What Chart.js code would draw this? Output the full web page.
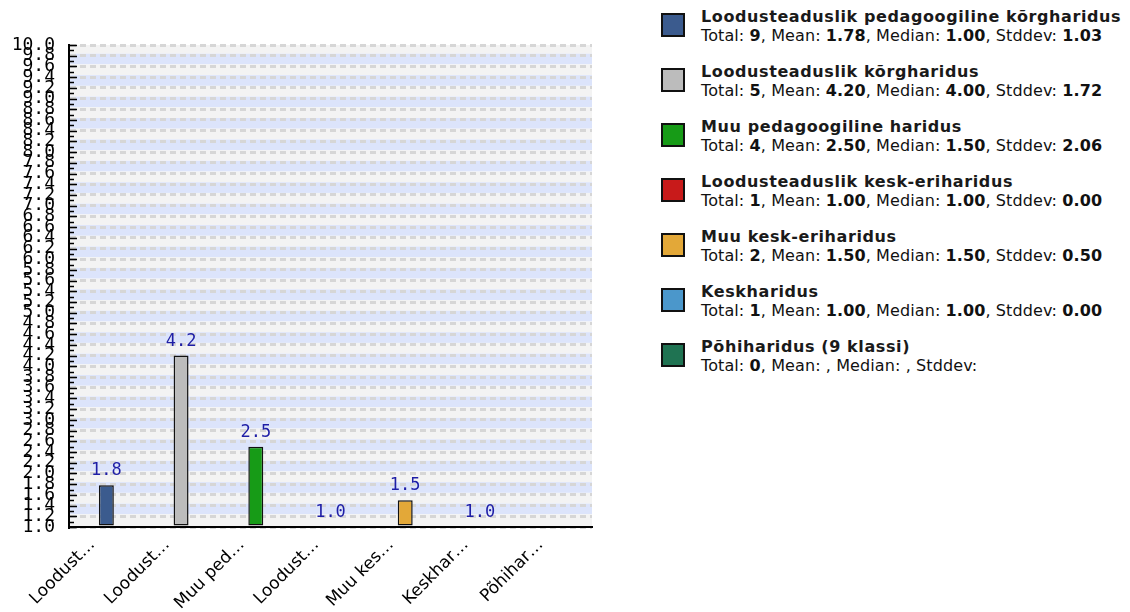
<!DOCTYPE html>
<html>
<head>
<meta charset="utf-8">
<script src="https://cdn.jsdelivr.net/npm/chart.js@4"></script>
<style>
  body { margin: 0; background: #fff; width: 1130px; height: 612px; overflow: hidden; position: relative; }
  #wrap { position: absolute; left: 0; top: 0; width: 600px; height: 612px; }
  #legend { position: absolute; left: 661px; top: 13px; font-family: 'DejaVu Sans', sans-serif; color: #111; }
  .item { position: relative; height: 55px; }
  .sw { position: absolute; left: 0; top: 0; width: 20px; height: 20px; border: 2px solid #111; }
  .txt { position: absolute; left: 40px; top: -6px; white-space: nowrap; }
  .t1 { font-size: 16px; font-weight: bold; letter-spacing: 0.6px; line-height: 19px; color: #1a1a1a; }
  .t2 { font-size: 16px; line-height: 19px; letter-spacing: 0.1px; }
  .t2 b { font-weight: bold; }
</style>
</head>
<body>
<div id="wrap"><canvas id="chart" width="600" height="612"></canvas></div>
<div id="legend"></div>
<script>
const categories = ['Loodusteaduslik pedagoogiline kõrgharidus', 'Loodusteaduslik kõrgharidus', 'Muu pedagoogiline haridus', 'Loodusteaduslik kesk-eriharidus', 'Muu kesk-eriharidus', 'Keskharidus', 'Põhiharidus (9 klassi)'];
const shortLabels = ['Loodust…', 'Loodust…', 'Muu ped…', 'Loodust…', 'Muu kes…', 'Keskhar…', 'Põhihar…'];
const totals = [9, 5, 4, 1, 2, 1, 0];
const means = [1.78, 4.20, 2.50, 1.00, 1.50, 1.00, null];
const medians = [1.00, 4.00, 1.50, 1.00, 1.50, 1.00, null];
const stddevs = [1.03, 1.72, 2.06, 0.00, 0.50, 0.00, null];
const barColors = ['#3b5b8e', '#bcbcbc', '#179b17', '#c81a1a', '#e3a838', '#4b97cb', '#1f7352'];

// legend on the right
const legend = document.getElementById('legend');
const fmt = v => (v === null ? '' : v.toFixed(2));
categories.forEach((name, i) => {
  const item = document.createElement('div');
  item.className = 'item';
  item.innerHTML =
    '<div class="sw" style="background:' + barColors[i] + '"></div>' +
    '<div class="txt"><div class="t1">' + name + '</div>' +
    '<div class="t2">Total: <b>' + totals[i] + '</b>, Mean: <b>' + fmt(means[i]) +
    '</b>, Median: <b>' + fmt(medians[i]) + '</b>, Stddev: <b>' + fmt(stddevs[i]) + '</b></div></div>';
  legend.appendChild(item);
});

const bandsPlugin = {
  id: 'bands',
  beforeDraw(chart) {
    const { ctx, chartArea, scales: { y } } = chart;
    ctx.save();
    ctx.beginPath();
    ctx.rect(chartArea.left, chartArea.top, chartArea.right - chartArea.left, chartArea.bottom - chartArea.top);
    ctx.clip();
    const ticks = y.ticks.map(t => t.value).sort((a, b) => b - a);
    for (let i = 0; i < ticks.length - 1; i++) {
      const top = y.getPixelForValue(ticks[i]) - 2;
      const bot = y.getPixelForValue(ticks[i + 1]) - 2;
      ctx.fillStyle = i % 2 === 0 ? '#f3f3f3' : '#dce4fb';
      ctx.fillRect(chartArea.left, top, chartArea.right - chartArea.left, bot - top);
    }
    ctx.fillStyle = '#f3f3f3';
    const last = y.getPixelForValue(ticks[ticks.length - 1]) - 2;
    ctx.fillRect(chartArea.left, last, chartArea.right - chartArea.left, chartArea.bottom - last);
    ctx.restore();
  }
};

const axisTicksPlugin = {
  id: 'axisTicks',
  afterDatasetsDraw(chart) {
    const { ctx, chartArea, scales: { y } } = chart;
    ctx.save();
    ctx.strokeStyle = '#000';
    ctx.lineWidth = 1.5;
    for (let i = 10; i <= 100; i++) {
      const py = Math.round(y.getPixelForValue(i / 10)) + 0.5;
      const len = i % 2 === 0 ? 8 : 5;
      ctx.beginPath();
      ctx.moveTo(chartArea.left, py);
      ctx.lineTo(chartArea.left + len, py);
      ctx.stroke();
    }
    ctx.restore();
  }
};

const valueLabelsPlugin = {
  id: 'valueLabels',
  afterDatasetsDraw(chart) {
    const { ctx } = chart;
    const meta = chart.getDatasetMeta(0);
    ctx.save();
    ctx.font = '17px "DejaVu Sans Mono", monospace';
    ctx.fillStyle = '#1e1ea6';
    ctx.textAlign = 'center';
    ctx.textBaseline = 'alphabetic';
    meta.data.forEach((bar, i) => {
      if (means[i] === null) return;
      ctx.fillText(means[i].toFixed(1), bar.x, bar.y - 10);
    });
    ctx.restore();
  }
};

new Chart(document.getElementById('chart'), {
  type: 'bar',
  data: {
    labels: shortLabels,
    datasets: [{
      data: means,
      base: 1,
      backgroundColor: barColors,
      borderColor: '#111',
      borderWidth: 1.5,
      borderSkipped: false,
      barPercentage: 0.4,
      categoryPercentage: 0.5,
    }],
  },
  options: {
    responsive: false,
    animation: false,
    layout: { padding: { top: 45, right: 8, left: 0, bottom: 0 } },
    plugins: { legend: { display: false }, tooltip: { enabled: false } },
    scales: {
      x: {
        grid: { display: false, drawTicks: false },
        border: { color: '#000', width: 2 },
        ticks: {
          color: '#000',
          font: { family: 'DejaVu Sans', size: 17 },
          minRotation: 45,
          maxRotation: 45,
          padding: 8,
          labelOffset: -14,
        },
        afterFit(scale) { scale.height = 85; },
      },
      y: {
        min: 1,
        max: 10,
        grid: { color: '#d6d6d6', lineWidth: 3, drawTicks: false },
        border: { color: '#000', width: 2, dash: [6, 4] },
        ticks: {
          stepSize: 0.2,
          autoSkip: false,
          color: '#000',
          padding: 14,
          font: { family: 'DejaVu Sans Mono', size: 18 },
          callback: v => Number(v).toFixed(1),
        },
        afterFit(scale) { scale.width = 69; },
      },
    },
  },
  plugins: [bandsPlugin, axisTicksPlugin, valueLabelsPlugin],
});
</script>
</body>
</html>
